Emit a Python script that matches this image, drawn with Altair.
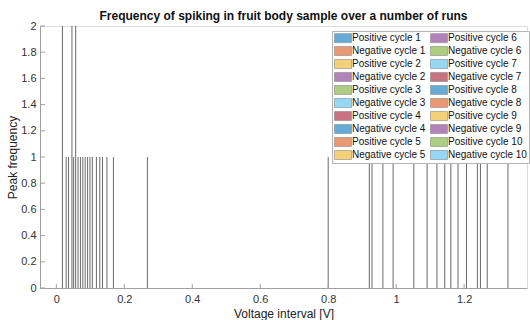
import altair as alt
import pandas as pd

# ---- data ----
peak_voltage = [0.018, 0.029, 0.036, 0.046, 0.051, 0.057, 0.064, 0.071, 0.078,
                0.085, 0.092, 0.099, 0.106, 0.118, 0.128, 0.136, 0.149, 0.168,
                0.268, 0.800, 0.921, 0.929, 0.961, 0.991, 1.052, 1.091, 1.120,
                1.143, 1.161, 1.182, 1.207, 1.239, 1.248, 1.268, 1.329]
peak_freq = [2, 1, 1, 2, 1, 2, 1, 1, 1,
             1, 1, 1, 1, 1, 1, 1, 1, 1,
             1, 1, 1, 1, 1, 1, 1, 1, 1,
             1, 1, 1, 1, 1, 1, 1, 1]
cycles = list(range(1, 11))
series_names = [f"{s} cycle {c}" for c in cycles for s in ("Positive", "Negative")]
base_colors = ["#66AAD7", "#E89875", "#F4D079", "#B282BB", "#ADCD83", "#94D8F5", "#C77282"]
x_ticks = [0, 0.2, 0.4, 0.6, 0.8, 1.0, 1.2]
y_ticks = [0, 0.2, 0.4, 0.6, 0.8, 1.0, 1.2, 1.4, 1.6, 1.8, 2.0]

series_colors = [base_colors[i % 7] for i in range(len(series_names))]

FONT = "Liberation Sans"
W, H = 487, 262
XDOM = [-0.048, 1.385]
YDOM = [0, 2]

bars_df = pd.DataFrame({"v": peak_voltage, "f": peak_freq})
xt_df = pd.DataFrame({"v": x_ticks})
yt_df = pd.DataFrame({"f": y_ticks})
ser_df = pd.DataFrame({"series": series_names})

xscale = alt.Scale(domain=XDOM, nice=False, zero=False)
yscale = alt.Scale(domain=YDOM, nice=False)

xaxis = alt.Axis(title="Voltage interval [V]", values=x_ticks, format="~g",
                 ticks=False, labelPadding=5, titlePadding=4,
                 domainColor="#a0a0a0", labelColor="#333333",
                 labelFontSize=11, titleFontSize=12, titleColor="#222222",
                 labelFont=FONT, titleFont=FONT, titleFontWeight="normal",
                 grid=False, labelFlush=False)
yaxis = alt.Axis(title="Peak frequency", values=y_ticks, format="~g",
                 ticks=False, labelPadding=4, titlePadding=1,
                 domainColor="#a0a0a0", labelColor="#333333",
                 labelFontSize=11, titleFontSize=12, titleColor="#222222",
                 labelFont=FONT, titleFont=FONT, titleFontWeight="normal",
                 grid=False, labelFlush=False)

bars = alt.Chart(bars_df).mark_rule(color="#6a6a6a", strokeWidth=1).encode(
    x=alt.X("v:Q", scale=xscale, axis=xaxis),
    y=alt.Y("f:Q", scale=yscale, axis=yaxis),
    y2=alt.datum(0),
)

xticks = alt.Chart(xt_df).mark_rule(color="#a0a0a0", strokeWidth=1).encode(
    x=alt.X("v:Q", scale=xscale, axis=xaxis),
    y=alt.value(H),
    y2=alt.value(H - 4),
)
yticks = alt.Chart(yt_df).mark_rule(color="#a0a0a0", strokeWidth=1).encode(
    y=alt.Y("f:Q", scale=yscale, axis=yaxis),
    x=alt.value(0),
    x2=alt.value(5),
)

legend_layer = alt.Chart(ser_df).mark_square(opacity=0, size=1).encode(
    color=alt.Color("series:N",
                    scale=alt.Scale(domain=series_names, range=series_colors),
                    legend=alt.Legend(title=None, orient="none", legendX=292, legendY=5,
                                      columns=2, columnPadding=3, rowPadding=1,
                                      symbolType="M-1,-1H2.78V1H-1Z", symbolSize=81,
                                      symbolOpacity=1, symbolStrokeColor="#8a8a8a",
                                      symbolStrokeWidth=0.6, labelOffset=8,
                                      labelFont=FONT, labelFontSize=10, labelColor="#111111",
                                      labelLimit=200, padding=2,
                                      strokeColor="#b5b5b5", fillColor="#ffffff",
                                      symbolLimit=40)),
)

chart = alt.layer(bars, xticks, yticks, legend_layer).properties(
    width=W, height=H,
    title=alt.TitleParams("Frequency of spiking in fruit body sample over a number of runs",
                          font=FONT, fontSize=12, fontWeight="bold", color="#111111",
                          anchor="middle", offset=-3),
    autosize=alt.AutoSizeParams(type="none"),
    padding={"left": 40, "top": 26, "right": 3, "bottom": 32},
).configure_view(stroke=None).configure(background="white")

chart.save("out.html", embed_options={"renderer": "svg", "actions": False})
